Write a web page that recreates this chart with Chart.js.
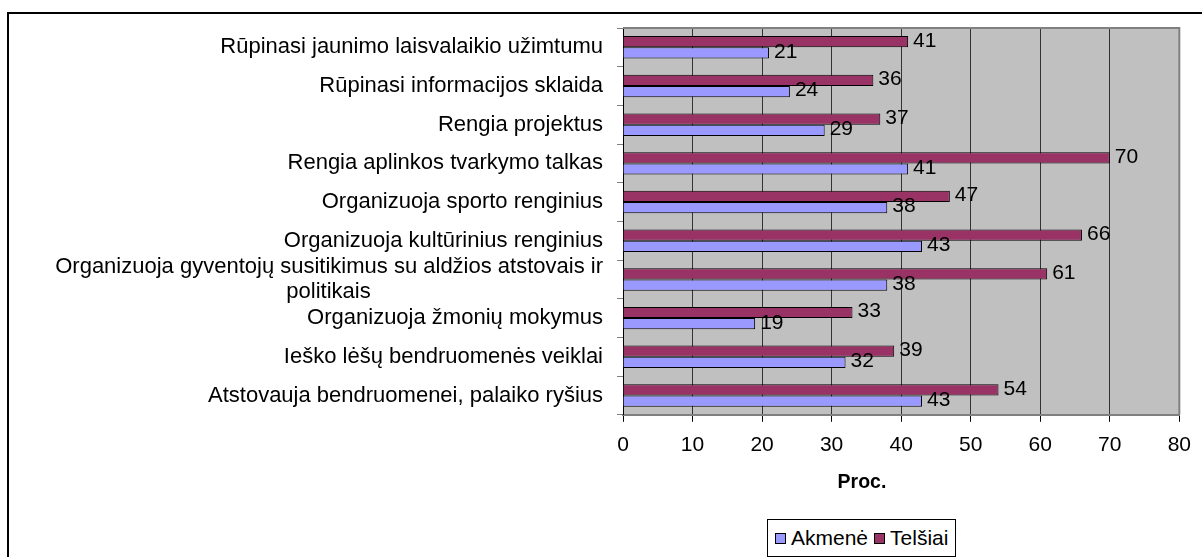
<!DOCTYPE html>
<html>
<head>
<meta charset="utf-8">
<script src="https://cdn.jsdelivr.net/npm/chart.js@4"></script>
<style>
    body { margin: 0; background: #fff; }
    #wrap { position: relative; width: 1202px; height: 557px; overflow: hidden; }
    #frame { position: absolute; left: 7px; top: 12px; width: 1300px; height: 700px;
             border-left: 2px solid #000; border-top: 2px solid #000; }
    #chartBox { position: absolute; left: 0; top: 0; width: 1202px; height: 557px; }
    #xTitle { position: absolute; left: 762px; width: 200px; top: 470px; text-align: center;
              font-family: 'Liberation Sans', Arial, sans-serif; font-size: 19.5px; font-weight: bold; }
    #legend { position: absolute; left: 767px; top: 519px; height: 36px; padding: 0 7px;
              border: 1px solid #000; background: #fff; display: flex; align-items: center;
              font-family: 'Liberation Sans', Arial, sans-serif; font-size: 21px; color: #000; }
    #legend span.box { display: inline-block; width: 9px; height: 9px; border: 1px solid #000;
                       margin-right: 5px; }
    #legend .item { display: flex; align-items: center; margin-right: 6px; }
    #legend .item:last-child { margin-right: 0; }
</style>
</head>
<body>
<div id="wrap">
    <div id="frame"></div>
    <div id="chartBox"><canvas id="barChart"></canvas></div>
    <div id="xTitle">Proc.</div>
    <div id="legend"></div>
</div>
<script>
// Categories (top to bottom)
const categories = [
    'Rūpinasi jaunimo laisvalaikio užimtumu',
    'Rūpinasi informacijos sklaida',
    'Rengia projektus',
    'Rengia aplinkos tvarkymo talkas',
    'Organizuoja sporto renginius',
    'Organizuoja kultūrinius renginius',
    ['Organizuoja gyventojų susitikimus su aldžios atstovais ir', 'politikais'],
    'Organizuoja žmonių mokymus',
    'Ieško lėšų bendruomenės veiklai',
    'Atstovauja bendruomenei, palaiko ryšius'
];
const akmene = [21, 24, 29, 41, 38, 43, 38, 19, 32, 43];
const telsiai = [41, 36, 37, 70, 47, 66, 61, 33, 39, 54];
const xTicks = [0, 10, 20, 30, 40, 50, 60, 70, 80];

const FONT = "'Liberation Sans', Arial, sans-serif";
const LABEL_SIZE = 22;
const NUM_SIZE = 21;

// Pad shorter lines of a wrapped label so they sit centred under the longest one
const measure = document.createElement('canvas').getContext('2d');
function centerLines(lines) {
    measure.font = LABEL_SIZE + 'px ' + FONT;
    const widths = lines.map(l => measure.measureText(l).width);
    const max = Math.max(...widths);
    const sp = measure.measureText('\u00A0').width;
    return lines.map((l, i) => l + '\u00A0'.repeat(Math.round((max - widths[i]) / 2 / sp)));
}

document.addEventListener('DOMContentLoaded', () => {
    // Gray plot area with a thin border
    const plotArea = {
        id: 'plotArea',
        beforeDraw(chart) {
            const {ctx, chartArea: a} = chart;
            ctx.save();
            ctx.fillStyle = '#C0C0C0';
            ctx.fillRect(a.left, a.top, a.right - a.left, a.bottom - a.top);
            ctx.restore();
        },
        afterDatasetsDraw(chart) {
            const {ctx, chartArea: a} = chart;
            ctx.save();
            ctx.strokeStyle = '#808080';
            ctx.lineWidth = 2;
            ctx.beginPath();
            ctx.moveTo(a.left, a.top);
            ctx.lineTo(a.right, a.top);
            ctx.lineTo(a.right, a.bottom);
            ctx.stroke();
            ctx.restore();
        }
    };

    // Value labels at the end of each bar
    const valueLabels = {
        id: 'valueLabels',
        afterDatasetsDraw(chart) {
            const {ctx} = chart;
            ctx.save();
            ctx.font = NUM_SIZE + 'px ' + FONT;
            ctx.fillStyle = '#000';
            ctx.textAlign = 'left';
            ctx.textBaseline = 'middle';
            chart.data.datasets.forEach((ds, di) => {
                chart.getDatasetMeta(di).data.forEach((bar, i) => {
                    ctx.fillText(ds.data[i], bar.x + 5, bar.y - 1);
                });
            });
            ctx.restore();
        }
    };

    const ctx = document.getElementById('barChart').getContext('2d');
    const chart = new Chart(ctx, {
        type: 'bar',
        data: {
            labels: categories,
            datasets: [{
                label: 'Telšiai',
                data: telsiai,
                backgroundColor: '#993366',
                borderColor: '#000',
                borderWidth: 1
            }, {
                label: 'Akmenė',
                data: akmene,
                backgroundColor: '#9999FF',
                borderColor: '#000',
                borderWidth: 1
            }]
        },
        options: {
            indexAxis: 'y',
            responsive: true,
            maintainAspectRatio: false,
            animation: false,
            datasets: {
                bar: {
                    categoryPercentage: 0.58,
                    barPercentage: 1.0
                }
            },
            layout: {
                padding: { left: 10, top: 28, right: 19, bottom: 88 }
            },
            plugins: {
                legend: { display: false },
                tooltip: { enabled: false }
            },
            scales: {
                x: {
                    min: 0,
                    max: 80,
                    afterBuildTicks(scale) {
                        scale.ticks = xTicks.map(v => ({ value: v }));
                    },
                    grid: {
                        color: '#333',
                        tickColor: '#000',
                        tickLength: 7,
                        lineWidth: 1
                    },
                    border: { color: '#808080', width: 2 },
                    ticks: {
                        color: '#000',
                        padding: 11,
                        maxRotation: 0,
                        font: { family: FONT, size: NUM_SIZE }
                    }
                },
                y: {
                    afterFit(scale) {
                        scale.width = 613;
                    },
                    grid: {
                        drawOnChartArea: false,
                        color: '#808080',
                        tickLength: 6
                    },
                    border: { color: '#000', width: 1 },
                    ticks: {
                        color: '#000',
                        padding: 14,
                        autoSkip: false,
                        font: { family: FONT, size: LABEL_SIZE, lineHeight: 1.15 },
                        callback(value) {
                            const lbl = this.getLabelForValue(value);
                            return Array.isArray(lbl) ? centerLines(lbl) : lbl;
                        }
                    }
                }
            }
        },
        plugins: [plotArea, valueLabels]
    });

    // Legend box (Akmenė first, as in the original)
    const legend = document.getElementById('legend');
    [chart.data.datasets[1], chart.data.datasets[0]].forEach(ds => {
        const item = document.createElement('div');
        item.className = 'item';
        item.innerHTML = '<span class="box" style="background:' + ds.backgroundColor + '"></span>' + ds.label;
        legend.appendChild(item);
    });
});
</script>
</body>
</html>
